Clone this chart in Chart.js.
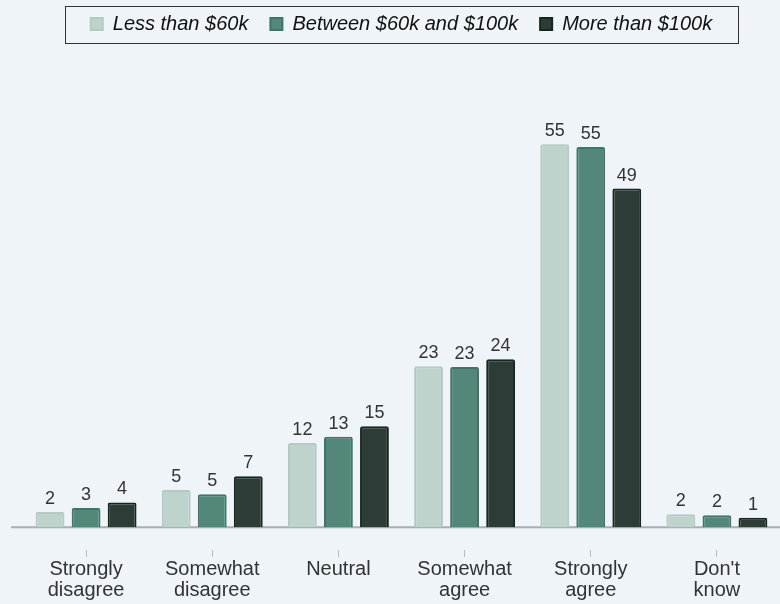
<!DOCTYPE html>
<html>
<head>
<meta charset="utf-8">
<script src="https://cdn.jsdelivr.net/npm/chart.js@4"></script>
<style>
  html, body { margin: 0; padding: 0; background: #eef4f8; }
  #wrap { width: 780px; height: 604px; }
</style>
</head>
<body>
<div id="wrap"><canvas id="barChart" width="780" height="604"></canvas></div>
<script>
"use strict"

// kategorier och serier
const categories = [
    ["Strongly", "disagree"],
    ["Somewhat", "disagree"],
    "Neutral",
    ["Somewhat", "agree"],
    ["Strongly", "agree"],
    ["Don't", "know"]
];
const seriesNames = ["Less than $60k", "Between $60k and $100k", "More than $100k"];
const lessThan60 = [2.2, 5.4, 12.2, 23.3, 55.4, 1.9];
const between60and100 = [2.8, 4.8, 13.1, 23.2, 55.0, 1.75];
const moreThan100 = [3.6, 7.4, 14.6, 24.3, 49, 1.4];

const fills = ["#bfd3cd", "#52877a", "#2d3c37"];
const borders = ["#b3c9c2", "#3f7568", "#17251f"];

const fontFamily = "'Liberation Sans', Arial, sans-serif";

// etiketter ovanför staplarna
const valueLabels = {
    id: "valueLabels",
    afterDatasetsDraw(chart) {
        const ctx = chart.ctx;
        ctx.save();
        ctx.font = "18px " + fontFamily;
        ctx.fillStyle = "#333333";
        ctx.textAlign = "center";
        ctx.textBaseline = "alphabetic";
        chart.data.datasets.forEach((ds, i) => {
            chart.getDatasetMeta(i).data.forEach((bar, j) => {
                ctx.fillText(Math.round(ds.data[j]), bar.x, bar.y - 8);
            });
        });
        ctx.restore();
    }
};

// baslinje och ram runt legenden
const extras = {
    id: "extras",
    beforeDatasetsDraw(chart) {
        const ctx = chart.ctx;
        const y = chart.scales.y.getPixelForValue(0);
        ctx.save();
        ctx.strokeStyle = "#a9aeb0";
        ctx.lineWidth = 2;
        ctx.beginPath();
        ctx.moveTo(11, y);
        ctx.lineTo(chart.chartArea.right, y);
        ctx.stroke();
        ctx.restore();
    },
    afterDraw(chart) {
        const boxes = chart.legend.legendHitBoxes;
        if (!boxes || !boxes.length) return;
        const left = Math.min(...boxes.map(b => b.left));
        const right = Math.max(...boxes.map(b => b.left + b.width));
        const mid = boxes[0].top + boxes[0].height / 2;
        const ctx = chart.ctx;
        ctx.save();
        ctx.strokeStyle = "#333333";
        ctx.lineWidth = 1;
        ctx.strokeRect(Math.round(left - 26) + 0.5, Math.round(mid - 18.5) + 0.5, Math.round(right - left + 52), 37);
        ctx.restore();
    }
};

const canvas = document.getElementById("barChart");
const ctx = canvas.getContext("2d");

new Chart(ctx, {
    type: "bar",
    data: {
        labels: categories,
        datasets: [lessThan60, between60and100, moreThan100].map((d, i) => ({
            label: seriesNames[i],
            data: d,
            backgroundColor: fills[i],
            borderColor: borders[i],
            borderWidth: 2,
            borderRadius: 2,
            borderSkipped: "bottom",
            categoryPercentage: 0.857,
            barPercentage: 0.8
        }))
    },
    plugins: [valueLabels, extras],
    options: {
        responsive: false,
        animation: false,
        devicePixelRatio: 1,
        layout: { padding: { left: 23, right: 0, top: -8, bottom: 1 } },
        plugins: {
            tooltip: { enabled: false },
            legend: {
                position: "top",
                labels: {
                    boxWidth: 12,
                    boxHeight: 12,
                    padding: 22,
                    color: "#111111",
                    font: { family: fontFamily, size: 20, style: "italic" }
                }
            }
        },
        scales: {
            x: {
                border: { display: false },
                grid: {
                    offset: false,
                    drawOnChartArea: false,
                    drawTicks: true,
                    tickLength: 7,
                    color: "#b5babd"
                },
                ticks: {
                    color: "#333333",
                    padding: 2,
                    maxRotation: 0,
                    font: { family: fontFamily, size: 20, lineHeight: 1.05 }
                }
            },
            y: {
                display: false,
                min: -3.28,
                max: 69.9
            }
        }
    }
});
</script>
</body>
</html>
